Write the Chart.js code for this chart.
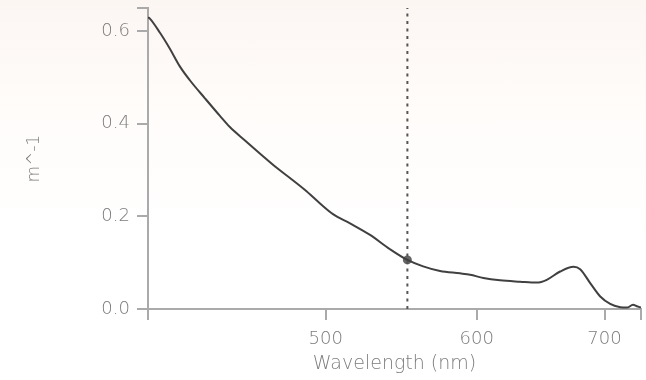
<!DOCTYPE html>
<html>
<head>
<meta charset="utf-8">
<script src="https://cdn.jsdelivr.net/npm/chart.js@4/dist/chart.umd.min.js"></script>
<style>
  html, body { margin: 0; padding: 0; overflow: hidden; }
  body { background: linear-gradient(#fcf6f3 0px, #fffcfa 110px, #ffffff 240px); }
  #wrap { position: relative; width: 646px; height: 380px; }
  canvas { display: block; }
</style>
</head>
<body>
<div id="wrap"><canvas id="chart"></canvas></div>
<script>
// absorption spectrum
const wavelengths = [403.5, 404.4, 409.3, 414.3, 419.3, 424.4, 432.2, 440.1, 445.4, 453.6, 461.8,
  471.3, 478.9, 487.7, 496.6, 504.4, 514.9, 527.5, 540.4, 551.8, 562.4, 574.0, 588.0,
  595.2, 604.8, 617.1, 632.2, 645.1, 652.9, 663.5, 674.3, 679.7, 688.0, 696.4, 704.8,
  713.4, 719.2, 724.5, 727.9, 731.5];
const absorption = [0.630, 0.627, 0.597, 0.562, 0.524, 0.494, 0.455, 0.417, 0.393, 0.364, 0.336,
  0.305, 0.283, 0.257, 0.228, 0.205, 0.185, 0.160, 0.129, 0.106, 0.092, 0.082, 0.077,
  0.074, 0.067, 0.062, 0.059, 0.057, 0.063, 0.081, 0.091, 0.086, 0.056, 0.027, 0.011,
  0.004, 0.003, 0.009, 0.006, 0.003];

const xTicks = [500, 600, 700];
const yTicks = [0, 0.2, 0.4, 0.6];
const xMin = 403.5, xMax = 731.5;
const yMin = 0, yMax = 0.65;

const cursorX = 551.8;
const cursorY = 0.106;

const grey = '#aaaaaa';
const textGrey = '#7c7c7c';
const font = { family: 'DejaVu Sans', size: 18, weight: 300 };

const points = wavelengths.map((w, i) => ({ x: w, y: absorption[i] }));

new Chart(document.getElementById('chart'), {
  type: 'scatter',
  data: {
    datasets: [
      {
        data: points,
        showLine: true,
        borderColor: '#404040',
        borderWidth: 2,
        pointRadius: 0,
        cubicInterpolationMode: 'monotone'
      },
      {
        data: [{ x: cursorX, y: yMin }, { x: cursorX, y: yMax }],
        showLine: true,
        borderColor: '#555555',
        borderWidth: 2,
        borderDash: [3, 4.5],
        pointRadius: 0
      },
      {
        data: [{ x: cursorX, y: cursorY }],
        pointRadius: 4.5,
        pointBackgroundColor: '#666666',
        pointBorderWidth: 0
      }
    ]
  },
  options: {
    responsive: true,
    maintainAspectRatio: false,
    animation: false,
    layout: { padding: { top: 8, right: 5 } },
    plugins: { legend: { display: false }, tooltip: { enabled: false } },
    scales: {
      x: {
        type: 'logarithmic',
        min: xMin,
        max: xMax,
        afterBuildTicks: s => { s.ticks = [xMin, ...xTicks, xMax].map(v => ({ value: v })); },
        afterFit: s => { s.height = 71; s.paddingLeft = 0; s.paddingRight = 0; },
        ticks: {
          color: textGrey,
          font: font,
          padding: 9,
          maxRotation: 0,
          autoSkip: false,
          callback: v => xTicks.includes(v) ? String(v) : ''
        },
        grid: { drawOnChartArea: false, color: grey, lineWidth: 2, tickLength: 11 },
        border: { color: grey, width: 2 },
        title: {
          display: true,
          text: 'Wavelength (nm)',
          color: textGrey,
          font: { family: 'DejaVu Sans', size: 19, weight: 300 },
          padding: { top: 0, bottom: 5 }
        }
      },
      y: {
        min: yMin,
        max: yMax,
        afterBuildTicks: s => { s.ticks = [...yTicks, yMax].map(v => ({ value: v })); },
        afterFit: s => { s.width = 148; s.paddingTop = 0; s.paddingBottom = 0; },
        ticks: {
          color: textGrey,
          font: font,
          padding: 7,
          callback: v => yTicks.includes(v) ? v.toFixed(1) : ''
        },
        grid: { drawOnChartArea: false, color: grey, lineWidth: 2, tickLength: 11 },
        border: { color: grey, width: 2 },
        title: {
          display: true,
          text: 'm^-1',
          color: textGrey,
          font: { family: 'DejaVu Sans', size: 17, weight: 300 },
          padding: { top: 24, bottom: 0 }
        }
      }
    }
  }
});
</script>
</body>
</html>
